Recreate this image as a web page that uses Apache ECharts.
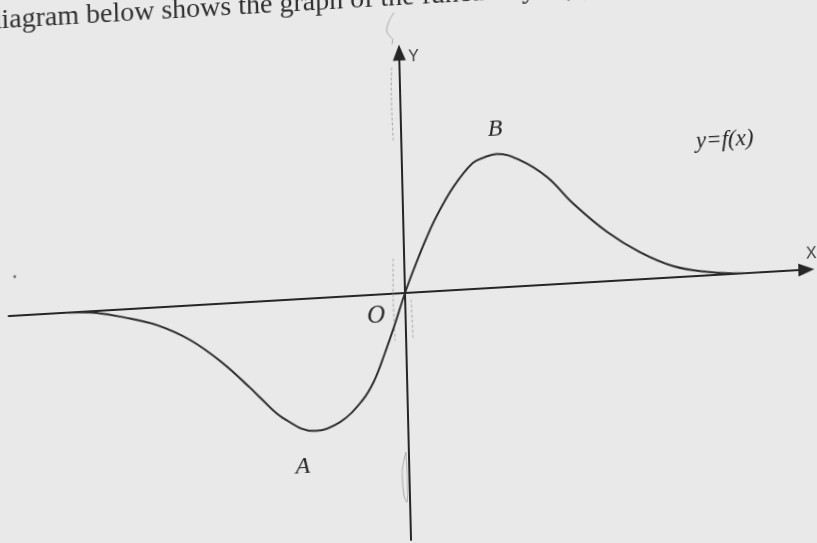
<!DOCTYPE html>
<html>
<head>
<meta charset="utf-8">
<script src="https://cdn.jsdelivr.net/npm/echarts@6/dist/echarts.min.js"></script>
<style>
  html, body { margin: 0; padding: 0; width: 817px; height: 543px; overflow: hidden; background: #e9e9e9; }
  #chart {
    position: absolute; left: -40px; top: -60px; width: 900px; height: 660px;
    /* the printed figure sits slightly askew on the page */
    transform-origin: 445px 353px;
    transform: matrix(0.9983, -0.0581, 0.0244, 0.9997, 0, 0);
  }
</style>
</head>
<body>
<div id="chart"></div>
<script>
// Sample points of y = f(x) (x and y in the same units)
const curveX = [-3.40, -3.25, -3.09, -2.83, -2.49, -2.16, -1.84, -1.57, -1.48, -1.25, -0.93, -0.68, -0.45, -0.33, -0.22, -0.11, 0.00, 0.11, 0.22, 0.33, 0.51, 0.71, 0.83, 0.95, 1.18, 1.45, 1.70, 2.04, 2.36, 2.69, 3.03, 3.29, 3.55];
const curveY = [0.000, -0.006, -0.021, -0.076, -0.176, -0.345, -0.594, -0.859, -0.955, -1.178, -1.326, -1.251, -1.045, -0.860, -0.600, -0.310, 0.000, 0.270, 0.520, 0.740, 1.031, 1.259, 1.310, 1.335, 1.261, 1.075, 0.800, 0.490, 0.272, 0.113, 0.034, 0.005, 0.000];

// Axis extents
const xRange = [-3.97, 4.02];
const yRange = [-2.47, 2.405];

// Text on the figure
const headline = 'diagram below shows the graph of the function y=f(x).';
const axisNames = { x: 'X', y: 'Y' };
const pointNames = { origin: 'O', min: 'A', max: 'B' };
const curveName = 'y=f(x)';

const ink = '#262626';
const pencil = '#a3a3a3';
const serif = '"Liberation Serif", "DejaVu Serif", serif';
const sans = '"Liberation Sans", Arial, sans-serif';

const chart = echarts.init(document.getElementById('chart'), null, { renderer: 'canvas' });

const hiddenAxisParts = {
  axisTick: { show: false },
  axisLabel: { show: false },
  splitLine: { show: false }
};

// faint hand-drawn pencil strokes along the vertical axis
function pencilStroke(points, dashed) {
  return {
    type: 'polyline', silent: true, z: 1,
    shape: { points: points, smooth: 0.3 },
    style: { stroke: pencil, lineWidth: 1, fill: null, lineDash: dashed ? [3, 2] : null, opacity: 0.9 }
  };
}

chart.setOption({
  backgroundColor: 'transparent',
  animation: false,
  grid: { left: 48, top: 112.5, width: 799, height: 487.5, containLabel: false },
  xAxis: Object.assign({
    type: 'value', min: xRange[0], max: xRange[1],
    axisLine: {
      show: true, onZero: true,
      symbol: ['none', 'triangle'], symbolSize: [13, 16],
      lineStyle: { color: ink, width: 2 }
    }
  }, hiddenAxisParts),
  yAxis: Object.assign({
    type: 'value', min: yRange[0], max: yRange[1],
    axisLine: {
      show: true, onZero: true,
      symbol: ['none', 'triangle'], symbolSize: [13, 16],
      lineStyle: { color: ink, width: 2 }
    }
  }, hiddenAxisParts),
  series: [{
    type: 'line',
    data: curveX.map((x, i) => [x, curveY[i]]),
    smooth: 0.4,
    showSymbol: false,
    lineStyle: { color: '#2e2e2e', width: 2 },
    z: 3
  }],
  graphic: [
    { type: 'text', x: 34, y: 72, style: { text: headline, font: '28px ' + serif, fill: '#2f2f2f', verticalAlign: 'bottom' } },
    { type: 'text', x: 454, y: 117.5, style: { text: axisNames.y, font: '16px ' + sans, fill: '#3a3a3a', verticalAlign: 'middle' } },
    { type: 'text', x: 847, y: 337.5, style: { text: axisNames.x, font: '16px ' + sans, fill: '#3a3a3a', verticalAlign: 'middle' } },
    { type: 'text', x: 415.5, y: 374.5, style: { text: pointNames.origin, font: 'italic 25px ' + serif, fill: ink, align: 'center', verticalAlign: 'middle' } },
    { type: 'text', x: 338.5, y: 521, style: { text: pointNames.min, font: 'italic 24px ' + serif, fill: ink, align: 'center', verticalAlign: 'middle' } },
    { type: 'text', x: 539, y: 194.5, style: { text: pointNames.max, font: 'italic 24px ' + serif, fill: ink, align: 'center', verticalAlign: 'middle' } },
    { type: 'text', x: 768.5, y: 218.5, style: { text: curveName, font: 'italic 23px ' + serif, fill: ink, align: 'center', verticalAlign: 'middle' } },
    pencilStroke([[438, 98], [433, 90], [436, 80], [441, 72]], false),
    pencilStroke([[439, 98], [438, 104]], false),
    pencilStroke([[437, 127], [436, 160], [437, 200]], true),
    pencilStroke([[434, 318], [433, 360], [434, 400]], true),
    pencilStroke([[451, 360], [452, 400]], true),
    pencilStroke([[442, 512], [438, 530], [439, 555], [442, 562], [443, 540], [442, 512]], false),
    { type: 'circle', silent: true, shape: { cx: 55, cy: 314, r: 1.4 }, style: { fill: '#666' } }
  ]
});
</script>
</body>
</html>
